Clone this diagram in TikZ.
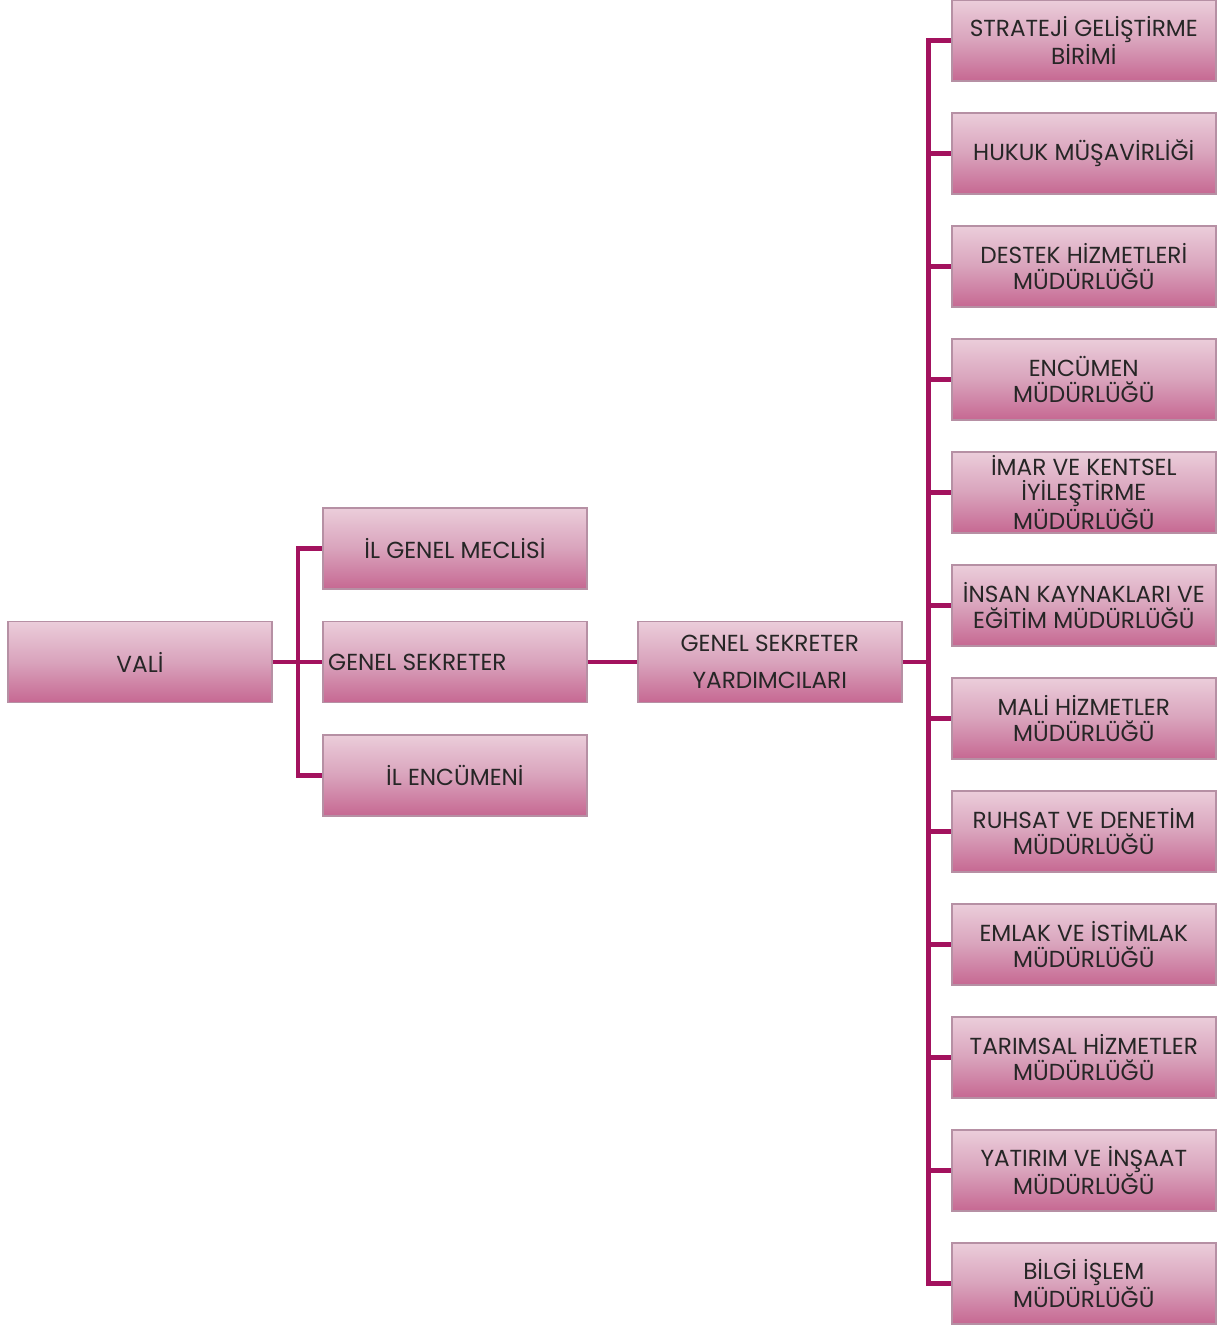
\documentclass[tikz,border=0pt]{standalone}
\usepackage{fontspec}
\setmainfont{Poppins}
\usepackage{tikz}
\usetikzlibrary{positioning,calc}
\definecolor{linkplum}{HTML}{A3125E}
\definecolor{boxtop}{HTML}{EBCDDA}
\definecolor{boxmid}{HTML}{D9A3BC}
\definecolor{boxbot}{HTML}{C66892}
\definecolor{boxedge}{HTML}{B690A4}
\tikzset{
  unit/.style={rectangle,minimum width=5.28cm,minimum height=1.62cm,
    draw=boxedge,line width=0.8pt,top color=boxtop,bottom color=boxbot,
    middle color=boxmid,text=black!85,font=\fontsize{13.2}{14.4}\selectfont,
    align=center,inner sep=1pt},
  link/.style={draw=linkplum,line width=2.6pt},
}
\begin{document}
\begin{tikzpicture}[node distance=0.62cm and 0.99cm]
  \useasboundingbox (-2.8,-13.26) rectangle (21.78,13.24);
  % left part
  \node[unit] (vali) at (0,0) {VALİ};
  \node[unit,right=of vali] (gs) {GENEL SEKRETER\hspace*{1.5cm}};
  \node[unit,above=of gs] (meclis) {İL GENEL MECLİSİ};
  \node[unit,below=of gs] (encumen) {İL ENCÜMENİ};
  \node[unit,right=of gs,font=\fontsize{13.2}{21}\selectfont] (gsy) {GENEL SEKRETER\\YARDIMCILARI};
  \draw[link] (vali.east) -- (gs.west);
  \draw[link] ($(vali.east)+(0.51,0)$) |- (meclis.west);
  \draw[link] ($(vali.east)+(0.51,0)$) |- (encumen.west);
  \draw[link] (gs.east) -- (gsy.west);
  % units under the deputies
  \coordinate (bus) at ($(gsy.east)+(0.52,0)$);
  \foreach \i/\txt in {1/{STRATEJİ GELİŞTİRME\\BİRİMİ},
      2/{HUKUK MÜŞAVİRLİĞİ},
      3/{DESTEK HİZMETLERİ\\MÜDÜRLÜĞÜ},
      4/{ENCÜMEN\\MÜDÜRLÜĞÜ},
      5/{İMAR VE KENTSEL\\İYİLEŞTİRME\\MÜDÜRLÜĞÜ},
      6/{İNSAN KAYNAKLARI VE\\EĞİTİM MÜDÜRLÜĞÜ},
      7/{MALİ HİZMETLER\\MÜDÜRLÜĞÜ},
      8/{RUHSAT VE DENETİM\\MÜDÜRLÜĞÜ},
      9/{EMLAK VE İSTİMLAK\\MÜDÜRLÜĞÜ},
      10/{TARIMSAL HİZMETLER\\MÜDÜRLÜĞÜ},
      11/{YATIRIM VE İNŞAAT\\MÜDÜRLÜĞÜ},
      12/{BİLGİ İŞLEM\\MÜDÜRLÜĞÜ}}{
    \node[unit] (dep\i) at ($(gsy)+(6.28,{(6.5-\i)*2.26})$) {\txt};
    \draw[link] (bus) |- (dep\i.west);
  }
  \draw[link] (gsy.east) -- (bus);
\end{tikzpicture}
\end{document}
